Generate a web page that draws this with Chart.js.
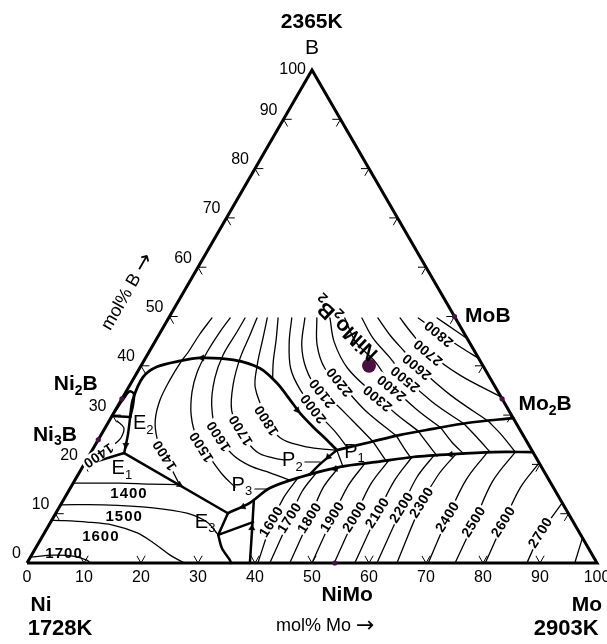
<!DOCTYPE html>
<html>
<head>
<meta charset="utf-8">
<title>Ni–Mo–B liquidus projection</title>
<script src="https://cdn.jsdelivr.net/npm/chart.js@4.4.1/dist/chart.umd.min.js"></script>
<style>
  html, body { margin: 0; padding: 0; background: #ffffff; }
  canvas { display: block; }
</style>
</head>
<body>
<canvas id="chart" width="607" height="644"></canvas>
<script>
// Every composition below is [mol% Mo, mol% B]; Ni makes up the balance.

// Axis ticks every 10 mol% and their labels
const tickValues = [0, 10, 20, 30, 40, 50, 60, 70, 80, 90, 100];
const tickLabels = ['0', '10', '20', '30', '40', '50', '60', '70', '80', '90', '100'];

// Corners of the composition triangle: Ni, Mo, B
const corners = [[0, 0], [100, 0], [0, 100], [0, 0]];

// Univariant lines (heavy)
const loopE2toP1 = [[3.3,29.6],[2.0,33.1],[1.5,37.7],[2.9,39.8],[6.4,41.0],[9.6,41.6],[15.6,41.2],[21.1,39.5],[25.6,36.5],[29.6,33.1],[32.7,30.4],[36.4,27.6],[40.2,24.9],[42.9,22.9]];
const lineP1toEdge = [[42.9,22.9],[47.9,24.5],[52.5,26.0],[57.6,27.2],[63.0,28.4],[70.6,29.4]];
const lineE3toEdge = [[30.2,10.1],[33.0,12.2],[35.0,15.2],[39.2,17.4],[45.2,19.5],[51.2,20.5],[57.0,21.5],[63.7,22.1],[70.5,22.5],[77.5,22.5]];
const lineP2 = [[40.6,17.9],[41.4,20.1],[42.9,22.9]];
const lineE1toE3 = [[5.9,22.3],[30.2,10.1]];
const lineE2toE1 = [[3.3,29.6],[4.7,26.0],[5.9,22.3]];
const lineE2toEdge = [[3.3,29.6],[0,29.8]];
const loopNi2B = [[0,30.5],[0.3,33.5],[0.6,34.8],[1.6,34.3],[2.6,32.0],[3.3,29.6]];
const lineE1toEdge = [[5.9,22.3],[0,19.8]];
const lineE3down = [[30.2,10.1],[30.7,5.7]];
const lineJtoBase = [[30.7,5.7],[32.7,3.0],[35.3,0.6],[35.8,0]];
const lineJtoRight = [[30.7,5.7],[35.5,8.3]];
const lineSteep = [[33.4,12.8],[36.4,6.1],[39.1,0]];

// Direction arrows on the univariant lines: [mol% Mo, mol% B, heading in degrees]
const arrowPoints = [[31.9,31.0,142],[9.9,41.6,270],[18.8,15.9,120],[32.2,11.4,246],[44.5,19.1,256],[63.3,22.0,266],[5.4,23.9,180],[35.9,7.1,3],[42.1,21.5,225]];

// Thin tie lines between the two upper univariant lines
const tieLines = [
  [[42.9,22.9],[45.7,19.5]],
  [[48.3,24.7],[50.7,22.5],[52.9,20.5]],
  [[51.9,25.8],[54.5,23.3],[56.7,21.3]],
  [[55.2,26.8],[58.3,24.1],[61.1,21.7]],
  [[58.9,27.4],[62.3,24.5],[65.6,22.1]],
  [[62.6,28.2],[66.3,25.4],[70.0,22.5]],
  [[66.5,28.8],[70.5,25.8],[74.4,22.5]]
];

// Liquidus isotherms (K) in the boride-rich fields
const upperIsotherms = [
  { t: 1400, pts: [[7.6,49.7],[7.1,46.4],[6.9,42.8],[6.6,40.8],[6.5,37.1],[6.8,33.1],[8.0,29.0],[10.1,25.4],[12.6,22.5],[16.0,18.9],[18.8,15.9]] },
  { t: 1500, pts: [[10.8,49.7],[10.4,46.9],[10.2,42.8],[10.5,38.7],[11.6,34.7],[13.8,30.0],[17.1,25.4],[21.5,21.3],[25.5,17.8],[28.8,15.4]] },
  { t: 1600, pts: [[13.4,49.7],[13.4,46.9],[13.3,42.2],[14.2,37.5],[16.4,32.0],[20.4,26.0],[25.2,21.9],[29.3,19.7],[33.5,18.3],[37.7,16.8]] },
  { t: 1700, pts: [[15.5,49.7],[16.0,46.2],[16.6,41.6],[18.1,36.1],[20.4,31.0],[24.1,26.6],[29.1,22.5],[32.5,21.3],[34.6,20.9]] },
  { t: 1800, pts: [[17.3,49.7],[18.6,45.6],[20.3,40.2],[22.3,35.5],[27.4,29.4],[31.7,25.4],[36.6,23.7],[40.4,23.1],[42.9,22.9]] },
  { t: 1900, pts: [[19.2,49.7],[21.1,45.2],[22.8,40.8],[24.3,37.6]] },
  { t: 2000, pts: [[21.6,49.7],[23.6,44.8],[26.5,39.5],[30.4,35.1],[35.8,30.4],[40.8,26.6],[44.5,23.4]] },
  { t: 2100, pts: [[23.9,49.7],[26.1,44.2],[29.2,39.5],[33.5,35.1],[37.4,32.7],[42.5,29.0],[48.3,24.7]] },
  { t: 2200, pts: [[26.0,49.7],[28.8,44.2],[32.5,39.5],[36.7,36.5],[43.8,31.0],[51.9,25.8]] },
  { t: 2300, pts: [[28.3,49.7],[31.5,44.8],[36.5,39.5],[43.7,34.3],[49.4,30.4],[55.2,26.8]] },
  { t: 2400, pts: [[30.9,49.7],[35.3,44.8],[40.7,40.8],[46.1,35.9],[52.4,31.4],[58.9,27.4]] },
  { t: 2500, pts: [[33.9,49.7],[37.9,45.6],[42.9,41.6],[47.5,37.7],[54.7,32.7],[62.6,28.2]] },
  { t: 2600, pts: [[36.7,49.7],[40.6,46.2],[44.9,42.8],[48.7,39.8],[57.2,34.1],[66.5,28.8]] },
  { t: 2700, pts: [[40.6,49.7],[44.2,46.6],[49.0,42.8],[56.9,38.1],[66.3,33.7]] },
  { t: 2800, pts: [[43.8,49.7],[49.1,46.6],[54.5,43.6],[58.5,41.5]] },
  { t: 2900, pts: [[47.1,49.7],[51.5,47.2],[54.5,45.5]] }
];

// Liquidus isotherms (K) in the Mo field
const moIsotherms = [
  { t: 1600, pts: [[40.5,0],[38.8,8.3],[38.4,13.4],[38.9,17.2]] },
  { t: 1700, pts: [[42.6,0],[41.6,9.1],[41.0,14.4],[41.6,18.3]] },
  { t: 1800, pts: [[46.1,0],[45.1,9.1],[44.3,15.2],[45.0,19.5]] },
  { t: 1900, pts: [[50.0,0],[49.0,9.3],[48.5,15.6],[49.2,20.3]] },
  { t: 2000, pts: [[53.9,0],[52.9,9.3],[52.3,16.0],[53.1,20.9]] },
  { t: 2100, pts: [[57.5,0],[56.5,10.1],[56.1,16.6],[56.8,21.5]] },
  { t: 2200, pts: [[61.4,0],[60.2,11.2],[59.7,17.4],[60.5,21.9]] },
  { t: 2300, pts: [[64.9,0],[63.2,12.2],[63.2,17.8],[64.2,22.1]] },
  { t: 2400, pts: [[70.4,0],[69.2,9.3],[68.6,16.8],[69.5,22.3]] },
  { t: 2500, pts: [[75.1,0],[74.3,8.3],[73.4,16.6],[74.4,22.5]] },
  { t: 2600, pts: [[80.4,0],[79.5,8.3],[78.9,15.2],[79.7,20.3]] },
  { t: 2700, pts: [[87.7,0],[87.1,6.1],[87.4,9.1],[87.8,12.2]] },
  { t: 2800, pts: [[96.1,0],[94.9,5.1]] }
];

// Liquidus isotherms (K) in the Ni field
const niIsotherms = [
  { t: 1400, pts: [[0,16.2],[8.2,16.2],[13.6,16.0],[18.8,15.9]] },
  { t: 1500, pts: [[0,11.8],[7.5,11.8],[16.5,11.2],[23.0,10.1],[27.4,8.3],[30.7,5.7]] },
  { t: 1600, pts: [[0,8.7],[6.4,8.3],[11.2,7.7],[16.3,6.1],[20.1,4.1],[24.3,1.6],[27.6,0]] },
  { t: 1700, pts: [[0,1.2],[3.8,1.6],[7.4,1.4],[10.2,0.6],[11.1,0]] },
  { t: 1400, pts: [[1.4,28.8],[3.3,27.4],[3.8,25.4],[3.4,24.3]] }
];

// Isotherm labels: [text, mol% Mo, mol% B]
const labelsBorideLeft = [['1400',13.3,21.9],['1500',18.9,23.6],['1600',20.8,25.8],['1700',24.1,27.0],['1800',27.6,29.0]];
const labelsBorideMid = [['2000',34.6,31.4],['2100',34.6,34.5],['2200',36.5,36.8]];
const labelsBorideRight = [['2300',44.8,33.5],['2400',46.2,35.6],['2500',47.7,37.4],['2600',48.5,39.9],['2700',49.0,42.8],['2800',49.0,46.6]];
const labelsMoField = [['1600',38.8,8.3],['1700',41.6,9.1],['1800',45.1,9.1],['1900',49.0,9.3],['2000',52.9,9.3],['2100',56.5,10.1],['2200',60.2,11.2],['2300',63.2,12.2],['2400',69.2,9.3],['2500',74.3,8.3],['2600',79.5,8.3],['2700',87.1,6.1]];
const labelsNiField = [['1400',10.9,14.0],['1500',12.4,9.3],['1600',10.3,5.3],['1700',5.6,1.8]];
const labelNearNi3B = ['1400', 1.5, 21.9];

// Invariant points: [letter, index, mol% Mo, mol% B]
const invariantLabels = [['E','1',7.1,19.1],['E','2',6.3,28.2],['E','3',27.1,8.3],['P','1',46.2,22.5],['P','2',36.2,20.7],['P','3',29.8,15.8]];
const leaderLines = [[[38.5,20.5],[41.2,20.5]], [[32.5,15.0],[34.8,15.0]]];

// Compounds on the binary edges and the ternary boride
const compoundPoints = [[0,33.3],[0,25.0],[50,50],[66.7,33.3],[54,0]];
const ternaryCompound = [[40,40]];

// ---------------------------------------------------------------------------
const toXY = ([mo, b]) => ({ x: mo + b / 2, y: b });

function path(points, width, tension = 0.35) {
  return {
    data: points.map(toXY), showLine: true, borderColor: '#000', borderWidth: width,
    pointRadius: 0, pointHoverRadius: 0, tension, fill: false, clip: false, order: 2,
    borderCapStyle: 'round', borderJoinStyle: 'round'
  };
}

const datasets = [];
datasets.push({
  data: compoundPoints.map(toXY), showLine: false, pointRadius: 2.6, pointBackgroundColor: '#4a1043',
  pointBorderWidth: 0, clip: false, order: 0
});
datasets.push({
  data: ternaryCompound.map(toXY), showLine: false, pointRadius: 7, pointBackgroundColor: '#4a1043',
  pointBorderWidth: 0, clip: false, order: 0
});
datasets.push({
  data: arrowPoints.map(([mo, b]) => toXY([mo, b])), showLine: false, pointStyle: 'triangle',
  pointRadius: 3.6, rotation: arrowPoints.map(a => a[2]), pointBackgroundColor: '#000',
  pointBorderColor: '#000', pointBorderWidth: 0.5, clip: false, order: 0
});
datasets.push(Object.assign(path(corners, 3, 0), { borderJoinStyle: 'miter', borderCapStyle: 'butt' }));

// Tick marks: short arms along the two grid directions entering the triangle
const arm = 1.4;
tickValues.slice(1, -1).forEach(v => {
  datasets.push(path([[v - arm, arm], [v, 0], [v, arm]], 1, 0));
  datasets.push(path([[arm, v], [0, v], [arm, v - arm]], 1, 0));
  datasets.push(path([[100 - v - arm, v], [100 - v, v], [100 - v, v - arm]], 1, 0));
});

[loopE2toP1, lineP1toEdge, lineE3toEdge].forEach(p => datasets.push(path(p, 2.7, 0.3)));
[lineP2, lineE2toE1, loopNi2B, lineJtoBase, lineSteep].forEach(p => datasets.push(path(p, 2.5, 0.3)));
[lineE1toE3, lineE2toEdge, lineE1toEdge, lineE3down, lineJtoRight].forEach(p => datasets.push(path(p, 2.5, 0)));
tieLines.forEach(p => datasets.push(path(p, 1.3, 0.3)));
upperIsotherms.forEach(c => datasets.push(path(c.pts, 1.3, 0.35)));
moIsotherms.forEach(c => datasets.push(path(c.pts, 1.3, 0.35)));
niIsotherms.forEach(c => datasets.push(path(c.pts, 1.3, 0.35)));
leaderLines.forEach(p => datasets.push(path(p, 1.1, 0)));

const FONT = "'Liberation Sans', Arial, Helvetica, sans-serif";

function drawText(ctx, txt, px, py, deg, font, opts = {}) {
  ctx.save();
  ctx.translate(px, py);
  ctx.rotate(deg * Math.PI / 180);
  ctx.font = font;
  ctx.letterSpacing = opts.spacing || '0px';
  ctx.textBaseline = 'middle';
  ctx.textAlign = opts.align || 'center';
  if (opts.bg) {
    const w = ctx.measureText(txt).width;
    ctx.fillStyle = '#fff';
    ctx.fillRect(-w / 2 - 1.5, -opts.bg / 2, w + 3, opts.bg);
  }
  ctx.fillStyle = '#000';
  ctx.fillText(txt, 0, 0);
  ctx.restore();
}

// segs: [text, font, vertical shift]; drawn centred on (px, py)
function drawSegments(ctx, segs, px, py, deg) {
  ctx.save();
  ctx.translate(px, py);
  ctx.rotate(deg * Math.PI / 180);
  ctx.textBaseline = 'middle';
  ctx.textAlign = 'left';
  let total = 0;
  const widths = segs.map(([t, f]) => { ctx.font = f; const m = ctx.measureText(t).width; total += m; return m; });
  let cur = -total / 2;
  ctx.fillStyle = '#000';
  segs.forEach(([t, f, dy], i) => { ctx.font = f; ctx.fillText(t, cur, dy || 0); cur += widths[i]; });
  ctx.restore();
}

// parts: [text, isSubscript]
function drawRich(ctx, parts, px, py, deg, size, bold) {
  const w = bold ? 'bold ' : '';
  const mainFont = `${w}${size}px ${FONT}`;
  const subFont = `${w}${Math.round(size * 0.66)}px ${FONT}`;
  drawSegments(ctx, parts.map(([t, sub]) => [t, sub ? subFont : mainFont, sub ? size * 0.32 : 0]), px, py, deg);
}

const labelPlugin = {
  id: 'ternaryLabels',
  afterDatasetsDraw(chart) {
    const { ctx, scales: { x, y } } = chart;
    const P = (mo, b) => [x.getPixelForValue(mo + b / 2), y.getPixelForValue(b)];

    // tick labels on the Ni–Mo edge and the Ni–B edge
    tickValues.forEach((v, i) => {
      const [bx, by] = P(v, 0);
      drawText(ctx, tickLabels[i], bx, by + 15, 0, `16px ${FONT}`);
      const [lx, ly] = P(0, v);
      drawText(ctx, tickLabels[i], lx - 6, v === 100 ? ly : ly - 9, 0, `16px ${FONT}`, { align: 'right' });
    });

    const isoFont = `bold 14px ${FONT}`;
    const iso = { bg: 12, spacing: '0.5px' };
    labelsBorideLeft.forEach(([t, mo, b]) => { const [px, py] = P(mo, b); drawText(ctx, t, px, py, -122, isoFont, iso); });
    labelsBorideMid.forEach(([t, mo, b]) => { const [px, py] = P(mo, b); drawText(ctx, t, px, py, -128, isoFont, iso); });
    labelsBorideRight.forEach(([t, mo, b]) => { const [px, py] = P(mo, b); drawText(ctx, t, px, py, -140, isoFont, iso); });
    labelsMoField.forEach(([t, mo, b]) => { const [px, py] = P(mo, b); drawText(ctx, t, px, py, -58, isoFont, iso); });
    labelsNiField.forEach(([t, mo, b]) => { const [px, py] = P(mo, b); drawText(ctx, t, px, py, 0, `bold 15px ${FONT}`, { spacing: '1px' }); });
    { const [t, mo, b] = labelNearNi3B; const [px, py] = P(mo, b); drawText(ctx, t, px, py, 146, isoFont, iso); }

    invariantLabels.forEach(([L, n, mo, b]) => { const [px, py] = P(mo, b); drawRich(ctx, [[L, false], [n, true]], px, py, 0, 20, false); });

    let p;
    p = P(-9.6, 36.3); drawRich(ctx, [['Ni', 0], ['2', 1], ['B', 0]], p[0], p[1], 0, 21, true);
    p = P(-8.1, 26.0); drawRich(ctx, [['Ni', 0], ['3', 1], ['B', 0]], p[0], p[1], 0, 21, true);
    p = P(55.8, 50.1); drawRich(ctx, [['MoB', 0]], p[0], p[1], 0, 21, true);
    p = P(74.8, 32.2); drawRich(ctx, [['Mo', 0], ['2', 1], ['B', 0]], p[0], p[1], 0, 21, true);
    p = P(59.4, -6.5); drawRich(ctx, [['NiMo', 0]], p[0], p[1], 0, 21, true);
    p = P(32.0, 47.7); drawRich(ctx, [['NiMo', 0], ['2', 1], ['B', 0], ['2', 1]], p[0], p[1], -136, 21, true);

    // corner and axis titles
    p = P(-4.9, 109.7); drawText(ctx, '2365K', p[0], p[1], 0, `bold 21px ${FONT}`);
    p = P(-2.2, 104.4); drawText(ctx, 'B', p[0], p[1], 0, `21px ${FONT}`);
    p = P(6.7, -8.5); drawText(ctx, 'Ni', p[0], p[1], 0, `bold 21px ${FONT}`);
    p = P(12.5, -13.4); drawText(ctx, '1728K', p[0], p[1], 0, `bold 22px ${FONT}`);
    p = P(102.5, -8.5); drawText(ctx, 'Mo', p[0], p[1], 0, `bold 21px ${FONT}`);
    p = P(101.3, -13.4); drawText(ctx, '2903K', p[0], p[1], 0, `bold 22px ${FONT}`);
    const arrowFont = "22px 'DejaVu Sans', sans-serif";
    p = P(58.7, -12.8); drawSegments(ctx, [['mol% Mo ', `18px ${FONT}`, 0], ['\u2192', arrowFont, 0]], p[0], p[1], 0);
    p = P(-9.9, 55.0); drawSegments(ctx, [['mol% B ', `18px ${FONT}`, 0], ['\u2192', arrowFont, 0]], p[0], p[1], -60);
  }
};

new Chart(document.getElementById('chart'), {
  type: 'scatter',
  data: { datasets },
  options: {
    responsive: false,
    animation: false,
    devicePixelRatio: 1,
    events: [],
    layout: { padding: { left: 27, right: 10, top: 70, bottom: 81 } },
    scales: {
      x: { type: 'linear', min: 0, max: 100, display: false },
      y: { type: 'linear', min: 0, max: 100, display: false }
    },
    plugins: { legend: { display: false }, tooltip: { enabled: false } }
  },
  plugins: [labelPlugin]
});
</script>
</body>
</html>
